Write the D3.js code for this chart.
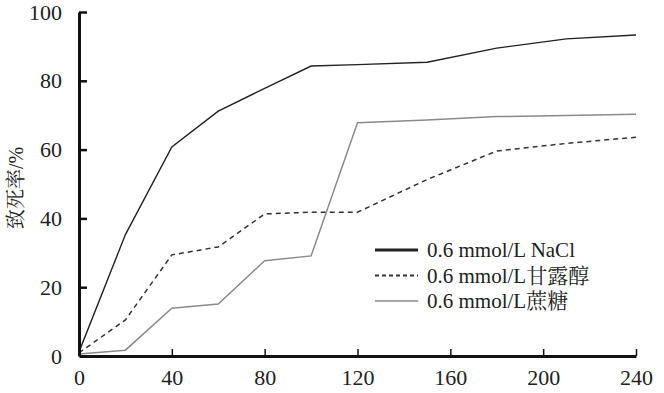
<!DOCTYPE html>
<html><head><meta charset="utf-8">
<script src="https://cdn.jsdelivr.net/npm/d3@7"></script>
<style>
html,body{margin:0;padding:0;background:#fff;}
svg{display:block;}
</style></head><body>
<svg id="chart" width="664" height="393"></svg>
<script>
const times = [0, 20, 40, 60, 80, 100, 120, 150, 180, 210, 240];
const nacl = [1.2, 35.3, 60.8, 71.2, 77.8, 84.3, 84.7, 85.4, 89.5, 92.2, 93.3];
const mannitol = [0.9, 10.5, 29.4, 31.7, 41.3, 41.8, 41.8, 51.3, 59.6, 61.8, 63.6];
const sucrose = [0.6, 1.7, 13.9, 15.1, 27.7, 29.1, 67.8, 68.6, 69.6, 69.9, 70.3];
const seriesNames = ["0.6 mmol/L NaCl", "0.6 mmol/L甘露醇", "0.6 mmol/L蔗糖"];
const xTicks = [0, 40, 80, 120, 160, 200, 240];
const yTicks = [0, 20, 40, 60, 80, 100];
const yLabel = "致死率/%";

const FONT = "'Liberation Serif','Noto Serif CJK SC','Times New Roman',serif";
const svg = d3.select("#chart");
const x = d3.scaleLinear().domain([0, 240]).range([79, 636]);
const y = d3.scaleLinear().domain([0, 100]).range([356, 12]);

const styles = [
  {stroke: "#222", width: 1.4, dash: null, lw: 3, ldash: null},
  {stroke: "#333", width: 1.5, dash: "5,4", lw: 2, ldash: "4,3"},
  {stroke: "#8a8a8a", width: 1.5, dash: null, lw: 1.5, ldash: null}
];
const data = [nacl, mannitol, sucrose];

const line = d3.line().x((d, i) => x(times[i])).y(d => y(d));
data.forEach((vals, k) => {
  svg.append("path").datum(vals)
    .attr("d", line)
    .attr("fill", "none")
    .attr("stroke", styles[k].stroke)
    .attr("stroke-width", styles[k].width)
    .attr("stroke-dasharray", styles[k].dash)
    .attr("stroke-linejoin", "miter");
});

// axes
const xAxis = d3.axisBottom(x).tickValues(xTicks).tickSize(-7).tickPadding(13).tickSizeOuter(0);
const gx = svg.append("g").attr("transform", `translate(0,${y(0)})`).call(xAxis);
gx.select(".domain").attr("stroke", "#111").attr("stroke-width", 3);
gx.selectAll(".tick line").attr("stroke", "#111").attr("stroke-width", 1.5);
gx.selectAll(".tick text").style("font-size", "22px").style("font-family", FONT).attr("fill", "#222");

const yAxis = d3.axisLeft(y).tickValues(yTicks).tickSize(-8).tickPadding(17).tickSizeOuter(0);
const gy = svg.append("g").attr("transform", `translate(${x(0)},0)`).call(yAxis);
gy.select(".domain").attr("stroke", "#111").attr("stroke-width", 3);
gy.selectAll(".tick line").attr("stroke", "#111").attr("stroke-width", 2.5);
gy.selectAll(".tick text").style("font-size", "22px").style("font-family", FONT).attr("fill", "#222");
gy.selectAll(".tick").filter(d => d === 0).select("line").remove();
gx.selectAll(".tick").filter(d => d === 0).select("line").remove();

// y label
svg.append("text")
  .attr("transform", `translate(23,${(y(40)+y(60))/2 + 4}) rotate(-90)`)
  .attr("text-anchor", "middle")
  .style("font-size", "20px").style("font-family", FONT).attr("fill", "#222")
  .text(yLabel);

// legend
const lg = svg.append("g");
seriesNames.forEach((name, k) => {
  const cy = 250 + k * 25.5;
  lg.append("line").attr("x1", 375).attr("x2", 418).attr("y1", cy).attr("y2", cy)
    .attr("stroke", styles[k].stroke).attr("stroke-width", styles[k].lw)
    .attr("stroke-dasharray", styles[k].ldash);
  lg.append("text").attr("x", 427).attr("y", cy + 7)
    .style("font-size", "21px").style("font-family", FONT).attr("fill", "#222")
    .text(name);
});
</script>
</body></html>
